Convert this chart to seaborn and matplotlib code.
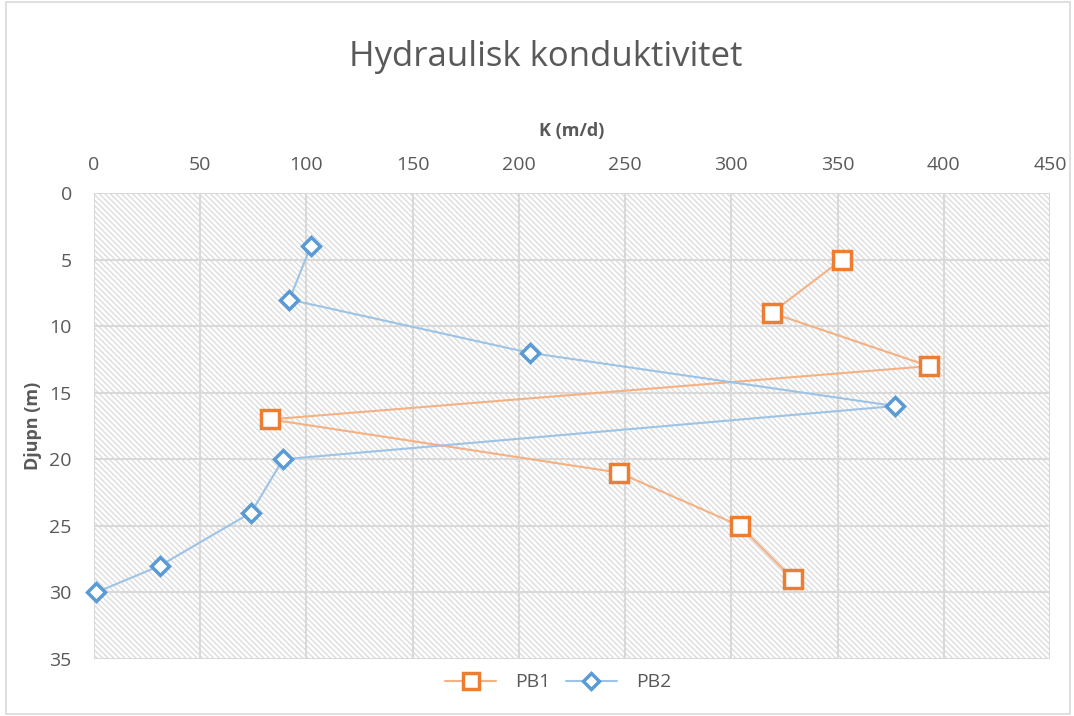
import matplotlib
matplotlib.use('Agg')
import matplotlib.pyplot as plt
import seaborn as sns
import pandas as pd
from matplotlib.lines import Line2D
from matplotlib.patches import Rectangle

# data
pb1_k = [352, 319, 393, 83, 247, 304, 329]
pb1_depth = [5, 9, 13, 17, 21, 25, 29]
pb2_k = [102, 92, 205, 377, 89, 74, 31, 1]
pb2_depth = [4, 8, 12, 16, 20, 24, 28, 30]
x_ticks = [0, 50, 100, 150, 200, 250, 300, 350, 400, 450]
y_ticks = [0, 5, 10, 15, 20, 25, 30, 35]

orange = '#ED7D31'
blue = '#5B9BD5'
grey = '#595959'

sns.set_style('white')
plt.rcParams['font.family'] = ['Open Sans', 'DejaVu Sans']
plt.rcParams['hatch.color'] = '#dadada'
plt.rcParams['hatch.linewidth'] = 0.9

fig = plt.figure(figsize=(10.74, 7.16), dpi=100)
ax = fig.add_axes([0.0875, 0.0796, 0.8902, 0.6508])

# hatched plot area
ax.add_patch(Rectangle((0, 0), 1, 1, transform=ax.transAxes, facecolor='white',
                       edgecolor='#dadada', hatch='\\\\\\\\\\\\', linewidth=0, zorder=0))

df1 = pd.DataFrame({'k': pb1_k, 'depth': pb1_depth})
df2 = pd.DataFrame({'k': pb2_k, 'depth': pb2_depth})

sns.lineplot(data=df1, x='k', y='depth', sort=False, color='#F4B183', linewidth=1.5, ax=ax, zorder=3)
sns.lineplot(data=df2, x='k', y='depth', sort=False, color='#9DC3E6', linewidth=1.5, ax=ax, zorder=3)
ax.plot(df1['k'], df1['depth'], linestyle='none', marker='s', markersize=13, clip_on=False,
        markerfacecolor='white', markeredgecolor=orange, markeredgewidth=2.5, zorder=4)
ax.plot(df2['k'], df2['depth'], linestyle='none', marker='D', markersize=9, clip_on=False,
        markerfacecolor='white', markeredgecolor=blue, markeredgewidth=2.5, zorder=4)

ax.set_xlim(0, 450)
ax.set_ylim(35, 0)
ax.set_xticks(x_ticks)
ax.set_yticks(y_ticks)
ax.xaxis.tick_top()
ax.xaxis.set_label_position('top')
ax.grid(True, color='#d9d9d9', linewidth=1.5, zorder=1)
ax.set_axisbelow(True)
for s in ax.spines.values():
    s.set_visible(False)
ax.tick_params(axis='x', length=0, labelsize=14, labelcolor=grey, pad=14)
ax.tick_params(axis='y', length=0, labelsize=14, labelcolor=grey, pad=16)

ax.set_xlabel('K (m/d)', fontsize=13, fontweight='bold', color=grey, labelpad=14)
ax.set_ylabel('Djupn (m)', fontsize=13, fontweight='bold', color=grey, labelpad=5)

fig.text(0.508, 0.92, 'Hydraulisk konduktivitet', ha='center', va='center',
         fontsize=25, color=grey)

handles = [
    Line2D([], [], color='#F4B183', linewidth=1.5, marker='s', markersize=11,
           markerfacecolor='white', markeredgecolor=orange, markeredgewidth=2.5),
    Line2D([], [], color='#9DC3E6', linewidth=1.5, marker='D', markersize=8,
           markerfacecolor='white', markeredgecolor=blue, markeredgewidth=2.5),
]
leg = fig.legend(handles, ['PB1', 'PB2'], loc='center', bbox_to_anchor=(0.52, 0.047),
                 ncol=2, frameon=False, fontsize=14, handlelength=2.6,
                 handletextpad=1.0, columnspacing=0.8)
for t in leg.get_texts():
    t.set_color(grey)

# light border around the whole chart
fig.patches.append(Rectangle((0.006, 0.003), 0.99, 0.994, transform=fig.transFigure,
                             fill=False, edgecolor='#d9d9d9', linewidth=1.2))

fig.savefig('out.png', dpi=100)
